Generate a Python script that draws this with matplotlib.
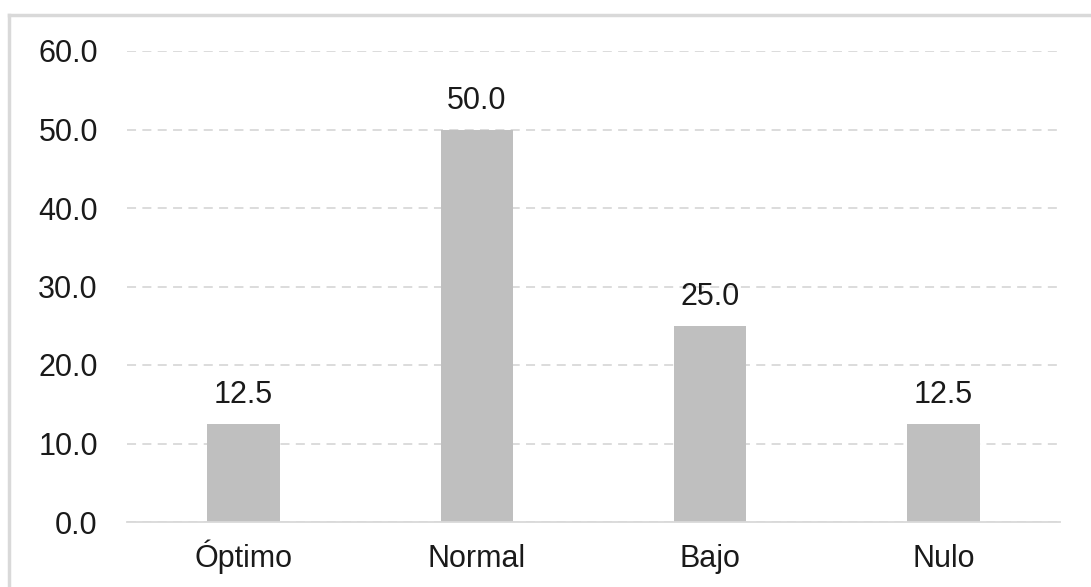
import matplotlib
matplotlib.use('Agg')
import matplotlib.pyplot as plt
from matplotlib.lines import Line2D
import numpy as np

# data
categories = ['Óptimo', 'Normal', 'Bajo', 'Nulo']
values = [12.5, 50.0, 25.0, 12.5]
y_ticks = [0, 10, 20, 30, 40, 50, 60]

plt.rcParams['font.family'] = ['Liberation Sans', 'DejaVu Sans']
FS = 22
TXT = '#1a1a1a'

fig = plt.figure(figsize=(10.91, 5.87), dpi=100)
ax = fig.add_axes([127 / 1091, 1 - 522 / 587, 933 / 1091, 471 / 587])

x = np.arange(len(categories))
ax.bar(x, values, width=0.31, color='#bfbfbf', zorder=3)

# value labels above the bars
for xi, v in zip(x, values):
    ax.annotate('%.1f' % v, (xi, v), xytext=(0, 15), textcoords='offset points',
                ha='center', va='baseline', fontsize=FS, color=TXT)

ax.set_xlim(-0.5, len(categories) - 0.5)
ax.set_ylim(0, 60)
ax.set_yticks(y_ticks)
ax.set_yticklabels(['%.1f' % t for t in y_ticks])
ax.set_xticks(x)
ax.set_xticklabels(categories)
ax.tick_params(axis='both', length=0, labelsize=FS, colors=TXT)
ax.tick_params(axis='y', pad=21)
ax.tick_params(axis='x', pad=32.5)
for lbl in ax.get_xticklabels():
    lbl.set_verticalalignment('baseline')

ax.yaxis.grid(True, color='#d9d9d9', linestyle=(0, (5, 3.5)), linewidth=1.3, zorder=0)
for s in ['top', 'right', 'left']:
    ax.spines[s].set_visible(False)
ax.spines['bottom'].set_color('#d9d9d9')
ax.spines['bottom'].set_linewidth(1.3)
ax.spines['bottom'].set_zorder(4)

# outer chart border (cut off at right and bottom in the reference)
top = 1 - 15 / 587
left = 9 / 1091
fig.add_artist(Line2D([left, 1.0], [top, top], color='#d9d9d9', linewidth=2.5, transform=fig.transFigure))
fig.add_artist(Line2D([left, left], [0.0, top], color='#d9d9d9', linewidth=2.5, transform=fig.transFigure))

fig.savefig('out.png', dpi=100)
